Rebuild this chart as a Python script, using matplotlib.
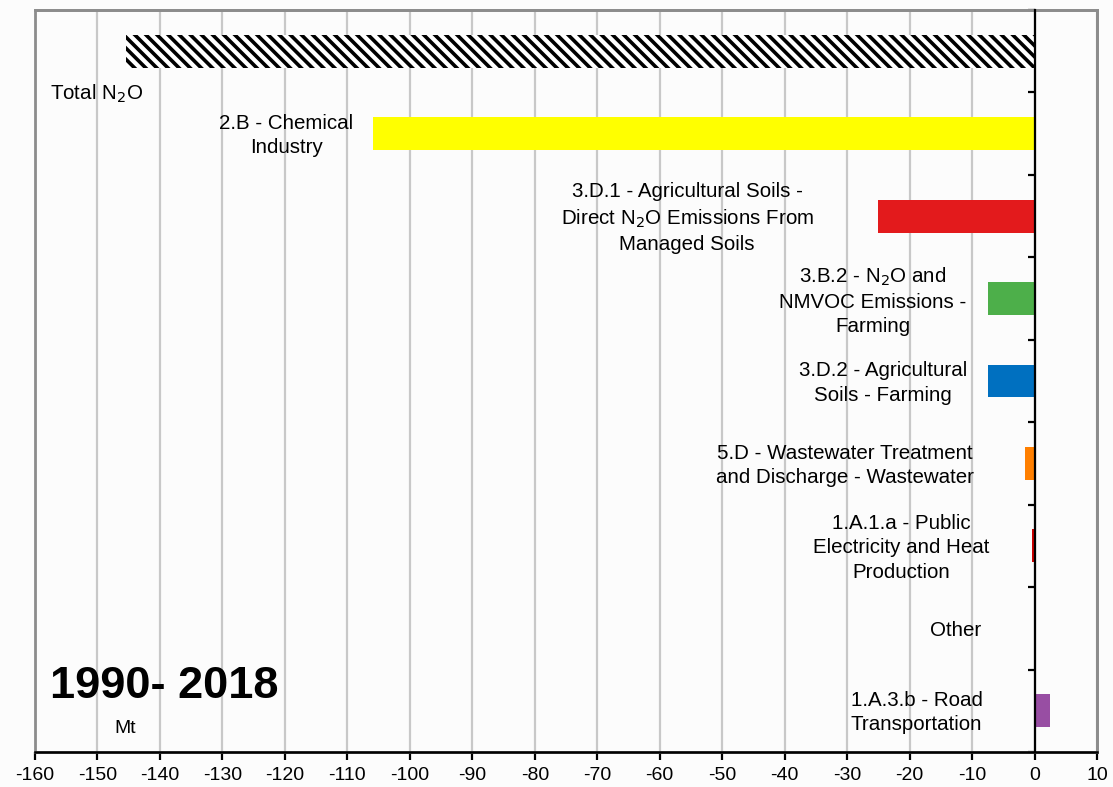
import matplotlib
matplotlib.use("Agg")
import matplotlib.pyplot as plt
from matplotlib.patches import Rectangle
import numpy as np

plt.rcParams['font.family'] = ['Liberation Sans', 'DejaVu Sans']
plt.rcParams['hatch.linewidth'] = 2.6

categories = [
    "Total N$_2$O",
    "2.B - Chemical\nIndustry",
    "3.D.1 - Agricultural Soils -\nDirect N$_2$O Emissions From\nManaged Soils",
    "3.B.2 - N$_2$O and\nNMVOC Emissions -\nFarming",
    "3.D.2 - Agricultural\nSoils - Farming",
    "5.D - Wastewater Treatment\nand Discharge - Wastewater",
    "1.A.1.a - Public\nElectricity and Heat\nProduction",
    "Other",
    "1.A.3.b - Road\nTransportation",
]
values = [-145.5, -105.9, -25.0, -7.5, -7.5, -1.6, -0.35, -0.08, 2.4]
colors = ["white", "#ffff00", "#e31a1c", "#4daf4a", "#0070c0",
          "#ff7f00", "#cc0000", "#5a3a1a", "#984ea3"]
xticks = list(range(-160, 11, 10))
title_text = "1990- 2018"
unit_text = "Mt"

# label placement (x center in data units)
label_x = [-157.6, -119.8, -55.6, -25.9, -24.3, -30.4, -21.3, -12.7, -18.9]

BG = "#fcfcfc"
fig = plt.figure(figsize=(11.13, 7.87), dpi=100, facecolor=BG)
ax = fig.add_axes([35/1113, 1 - 752/787, (1097-35)/1113, (752-10)/787])
ax.set_facecolor(BG)

y = np.arange(len(categories))
bars = ax.barh(y, values, height=0.4, color=colors, edgecolor="none", zorder=3)
bars[0].set_hatch("\\\\\\")
bars[0].set_edgecolor("black")
bars[0].set_linewidth(0)

ax.set_xlim(-160, 10)
ax.set_ylim(len(categories) - 0.5, -0.5)
ax.set_xticks(xticks)
ax.set_xticklabels([str(v) for v in xticks], fontsize=14)
ax.xaxis.grid(True, color="#c8c8c8", linewidth=1.6, zorder=0)
ax.set_axisbelow(True)

ax.set_yticks(np.arange(-0.5, len(categories) + 0.5, 1.0))
ax.set_yticklabels([])
ax.spines['left'].set_position(('data', 0))
ax.spines['left'].set_color("black")
ax.spines['left'].set_linewidth(1.6)
ax.spines['left'].set_zorder(4)
ax.tick_params(axis='y', direction='out', length=5, width=1.6, color='black')
ax.tick_params(axis='x', direction='out', length=6, width=1.6, color='black', pad=5)
for s in ['top', 'right']:
    ax.spines[s].set_color("#8c8c8c")
    ax.spines[s].set_linewidth(2)
ax.spines['bottom'].set_color("black")
ax.spines['bottom'].set_linewidth(1.8)
ax.spines['bottom'].set_zorder(5)
ax.add_patch(Rectangle((0, 0), 1, 1, transform=ax.transAxes, fill=False,
                       edgecolor="#8c8c8c", linewidth=2, clip_on=False, zorder=1))

for i, (lab, lx) in enumerate(zip(categories, label_x)):
    if i == 0:
        ax.text(lx, i + 0.52, lab, ha='left', va='center', fontsize=14.8,
                zorder=6)
    else:
        ax.text(lx, i + 0.025, lab, ha='center', va='center', fontsize=14.8,
                multialignment='center', linespacing=1.35, zorder=6)

ax.text(-157.6, 7.71, title_text, ha='left', va='center', fontsize=32.5,
        fontweight='bold', zorder=6)
ax.text(-145.5, 8.22, unit_text, ha='center', va='center', fontsize=14,
        zorder=6)

fig.savefig("out.png", dpi=100, facecolor=BG)
